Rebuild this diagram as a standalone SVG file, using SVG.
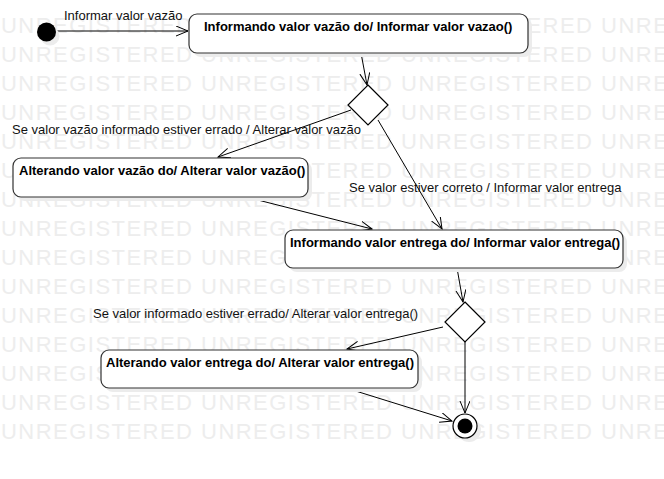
<svg xmlns="http://www.w3.org/2000/svg" width="664" height="479" viewBox="0 0 664 479">
<defs>
<style>
.wm{font-family:"Liberation Sans",Arial,sans-serif;font-size:22px;fill:#ededed;letter-spacing:1.47px}
.box{fill:#fff;stroke:#333;stroke-width:1.2}
.shadow{fill:#ececec}
.bt{font-family:"Liberation Sans",Arial,sans-serif;font-size:13px;font-weight:bold;fill:#000}
.lbl{font-family:"Liberation Sans",Arial,sans-serif;font-size:13px;fill:#111}
.edge{fill:none;stroke:#000;stroke-width:1;marker-end:url(#arr)}
.dia{fill:#fff;stroke:#000;stroke-width:1.2}
</style>
<marker id="arr" markerUnits="userSpaceOnUse" markerWidth="14" markerHeight="12" refX="12" refY="5" orient="auto">
<path d="M0,0 L12,5 L0,10" fill="none" stroke="#000" stroke-width="1"/>
</marker>
</defs>
<rect width="664" height="479" fill="#fff"/>
<g id="watermark">
<text class="wm" x="1" y="33">UNREGISTERED UNREGISTERED UNREGISTERED UNRE</text>
<text class="wm" x="1" y="62">UNREGISTERED UNREGISTERED UNREGISTERED UNRE</text>
<text class="wm" x="1" y="91">UNREGISTERED UNREGISTERED UNREGISTERED UNRE</text>
<text class="wm" x="1" y="120">UNREGISTERED UNREGISTERED UNREGISTERED UNRE</text>
<text class="wm" x="1" y="149">UNREGISTERED UNREGISTERED UNREGISTERED UNRE</text>
<text class="wm" x="1" y="178">UNREGISTERED UNREGISTERED UNREGISTERED UNRE</text>
<text class="wm" x="1" y="207">UNREGISTERED UNREGISTERED UNREGISTERED UNRE</text>
<text class="wm" x="1" y="236">UNREGISTERED UNREGISTERED UNREGISTERED UNRE</text>
<text class="wm" x="1" y="265">UNREGISTERED UNREGISTERED UNREGISTERED UNRE</text>
<text class="wm" x="1" y="294">UNREGISTERED UNREGISTERED UNREGISTERED UNRE</text>
<text class="wm" x="1" y="323">UNREGISTERED UNREGISTERED UNREGISTERED UNRE</text>
<text class="wm" x="1" y="352">UNREGISTERED UNREGISTERED UNREGISTERED UNRE</text>
<text class="wm" x="1" y="381">UNREGISTERED UNREGISTERED UNREGISTERED UNRE</text>
<text class="wm" x="1" y="410">UNREGISTERED UNREGISTERED UNREGISTERED UNRE</text>
<text class="wm" x="1" y="439">UNREGISTERED UNREGISTERED UNREGISTERED UNRE</text>
</g>
<g id="connectors">
<line class="edge" x1="56" y1="31" x2="188" y2="31"/>
<text class="lbl" x="64" y="20">Informar valor vazão</text>
<line class="edge" x1="361" y1="53" x2="367" y2="85"/>
<line class="edge" x1="351" y1="110" x2="218" y2="157"/>
<text class="lbl" x="12" y="134">Se valor vazão informado estiver errado / Alterar valor vazão</text>
<line class="edge" x1="378" y1="120" x2="442" y2="229"/>
<text class="lbl" x="349" y="192">Se valor estiver correto / Informar valor entrega</text>
<line class="edge" x1="246" y1="197" x2="372" y2="229"/>
<line class="edge" x1="457" y1="268" x2="463" y2="302"/>
<line class="edge" x1="443" y1="327" x2="347" y2="349"/>
<text class="lbl" x="93" y="318">Se valor informado estiver errado/ Alterar valor entrega()</text>
<line class="edge" x1="346" y1="388" x2="452" y2="421"/>
<line class="edge" x1="465" y1="342" x2="465" y2="413"/>
</g>
<g id="initial">
<circle cx="50" cy="36" r="9.5" class="shadow"/>
<circle cx="46.5" cy="32" r="9.5" fill="#000"/>
</g>
<g id="box1">
<rect class="shadow" x="193" y="18" width="339" height="39" rx="8"/>
<rect class="box" x="189" y="14" width="339" height="39" rx="8"/>
<text class="bt" x="204" y="31">Informando valor vazão do/ Informar valor vazao()</text>
</g>
<g id="decision1">
<polygon class="dia" points="368,85 388,105 368,125 348,105"/>
</g>
<g id="box2">
<rect class="shadow" x="17" y="162" width="295" height="39" rx="8"/>
<rect class="box" x="13" y="158" width="295" height="39" rx="8"/>
<text class="bt" x="19" y="175">Alterando valor vazão do/ Alterar valor vazão()</text>
</g>
<g id="box3">
<rect class="shadow" x="289" y="234" width="338" height="38" rx="8"/>
<rect class="box" x="285" y="230" width="338" height="38" rx="8"/>
<text class="bt" x="290" y="247">Informando valor entrega do/ Informar valor entrega()</text>
</g>
<g id="decision2">
<polygon class="dia" points="465,302 485,322 465,342 445,322"/>
</g>
<g id="box4">
<rect class="shadow" x="105" y="354" width="317" height="38" rx="8"/>
<rect class="box" x="101" y="350" width="317" height="38" rx="8"/>
<text class="bt" x="106" y="367">Alterando valor entrega do/ Alterar valor entrega()</text>
</g>
<g id="final">
<circle cx="469" cy="430" r="12" class="shadow"/>
<circle cx="465" cy="426" r="12" fill="#fff" stroke="#000" stroke-width="1.2"/>
<circle cx="465" cy="426" r="7.5" fill="#000"/>
</g>
</svg>
